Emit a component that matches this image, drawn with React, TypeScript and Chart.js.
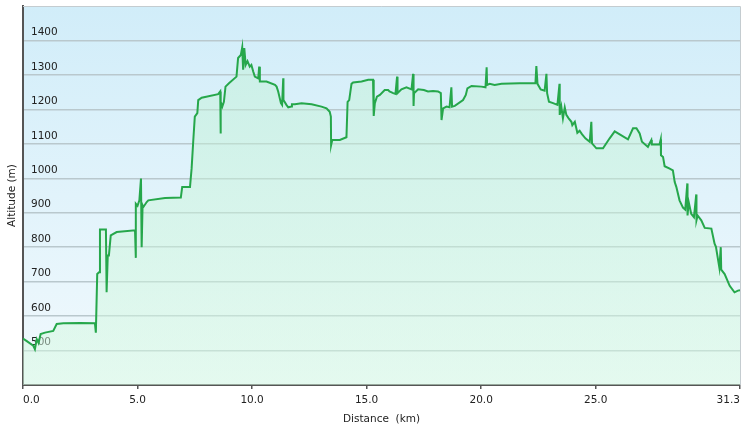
import React, { useEffect, useRef } from "react";
import { Chart, registerables } from "chart.js";

Chart.register(...registerables);

const distanceKm: number[] = [
  0.0, 0.15, 0.45, 0.52, 0.6, 0.68, 0.77, 0.96, 1.32, 1.47, 1.76, 2.5, 3.14, 3.18, 3.24, 3.32, 3.36, 3.62, 3.65, 3.7,
  3.75, 3.83, 4.09, 4.89, 4.92, 4.93, 5.0, 5.08, 5.15, 5.18, 5.22, 5.25, 5.4, 5.47, 6.2, 6.89, 6.95, 7.29, 7.36, 7.43,
  7.5, 7.61, 7.65, 7.8, 8.52, 8.61, 8.62, 8.64, 8.7, 8.77, 8.84, 8.99, 9.32, 9.39, 9.51, 9.57, 9.61, 9.66, 9.72, 9.8,
  9.9, 9.97, 10.05, 10.12, 10.27, 10.31, 10.34, 10.63, 11.0, 11.07, 11.14, 11.26, 11.31, 11.36, 11.37, 11.5, 11.58, 11.72, 11.74, 11.87,
  12.16, 12.6, 13.03, 13.25, 13.39, 13.44, 13.45, 13.5, 13.83, 14.12, 14.17, 14.24, 14.34, 14.41, 14.78, 15.07, 15.28, 15.31, 15.36, 15.45,
  15.58, 15.79, 15.94, 16.0, 16.16, 16.26, 16.33, 16.35, 16.52, 16.74, 16.96, 17.03, 17.05, 17.07, 17.25, 17.5, 17.68, 17.9, 18.12, 18.24,
  18.27, 18.34, 18.49, 18.62, 18.7, 18.73, 18.85, 19.21, 19.33, 19.4, 19.58, 20.01, 20.19, 20.24, 20.26, 20.37, 20.59, 20.89, 21.68, 22.37,
  22.41, 22.46, 22.6, 22.77, 22.85, 22.88, 22.96, 23.14, 23.33, 23.42, 23.43, 23.5, 23.57, 23.65, 23.72, 23.82, 23.94, 23.98, 24.09, 24.2,
  24.3, 24.4, 24.55, 24.74, 24.81, 24.84, 25.03, 25.32, 25.61, 25.83, 26.41, 26.63, 26.78, 26.92, 27.02, 27.28, 27.35, 27.43, 27.45, 27.79,
  27.84, 27.85, 27.94, 28.01, 28.23, 28.37, 28.45, 28.52, 28.66, 28.81, 28.91, 29.0, 29.01, 29.06, 29.17, 29.29, 29.39, 29.4, 29.45, 29.61,
  29.76, 30.05, 30.19, 30.25, 30.4, 30.46, 30.48, 30.63, 30.85, 31.06, 31.21, 31.3,
];

const altitudeM: number[] = [
  535, 528, 514, 504, 533, 522, 548, 552, 557, 577, 579, 580, 579, 552, 722, 727, 851, 851, 669, 776,
  776, 834, 844, 849, 769, 926, 920, 936, 999, 800, 921, 916, 931, 936, 943, 944, 975, 975, 1028, 1106,
  1179, 1189, 1227, 1234, 1244, 1252, 1130, 1222, 1208, 1222, 1266, 1276, 1295, 1349, 1358, 1380, 1315, 1378, 1329, 1340,
  1324, 1329, 1310, 1295, 1290, 1324, 1281, 1281, 1271, 1266, 1252, 1218, 1213, 1290, 1227, 1213, 1206, 1208, 1215, 1215,
  1218, 1215, 1208, 1203, 1193, 1179, 1096, 1111, 1111, 1119, 1222, 1227, 1274, 1278, 1281, 1286, 1286, 1181, 1218, 1237,
  1242, 1256, 1256, 1252, 1247, 1245, 1295, 1247, 1258, 1264, 1258, 1303, 1210, 1247, 1258, 1256, 1252, 1253, 1252, 1247,
  1169, 1203, 1208, 1206, 1264, 1208, 1210, 1227, 1242, 1261, 1268, 1266, 1264, 1322, 1271, 1274, 1271, 1274, 1276, 1276,
  1326, 1274, 1258, 1254, 1303, 1247, 1222, 1218, 1213, 1274, 1184, 1208, 1174, 1206, 1184, 1174, 1164, 1154, 1164, 1132,
  1138, 1128, 1116, 1106, 1164, 1101, 1087, 1087, 1116, 1136, 1113, 1145, 1145, 1130, 1106, 1091, 1101, 1111, 1098, 1099,
  1113, 1067, 1062, 1035, 1028, 1023, 989, 975, 936, 915, 909, 985, 892, 931, 897, 887, 953, 878, 892, 878,
  856, 854, 810, 801, 740, 800, 735, 722, 688, 669, 674, 675,
];

const xTicks: number[] = [0, 5, 10, 15, 20, 25, 31.3];
const yMin = 400;
const yMax = 1500;

const FONT = "'DejaVu Sans', Verdana, sans-serif";

const bgPlugin = {
  id: "bgPlugin",
  beforeDraw(chart: any) {
    const { ctx, chartArea: a } = chart;
    if (!a) return;
    const g = ctx.createLinearGradient(0, a.top, 0, a.bottom);
    g.addColorStop(0, "#d1edf9");
    g.addColorStop(1, "#f1f9fd");
    ctx.save();
    ctx.fillStyle = g;
    ctx.fillRect(a.left, a.top, a.right - a.left, a.bottom - a.top);
    ctx.restore();
  },
  afterDraw(chart: any) {
    const { ctx, chartArea: a } = chart;
    ctx.save();
    ctx.strokeStyle = "#c4ccd0";
    ctx.lineWidth = 1;
    ctx.beginPath();
    ctx.moveTo(a.left, a.top + 0.5);
    ctx.lineTo(a.right + 0.5, a.top + 0.5);
    ctx.lineTo(a.right + 0.5, a.bottom);
    ctx.stroke();
    ctx.restore();
  },
};

export default function App() {
  const ref = useRef<HTMLCanvasElement | null>(null);

  useEffect(() => {
    if (!ref.current) return;
    const points = distanceKm.map((x, i) => ({ x, y: altitudeM[i] }));
    const chart = new Chart(ref.current, {
      type: "line",
      data: {
        datasets: [
          {
            data: points,
            borderColor: "#26a74b",
            borderWidth: 2,
            pointRadius: 0,
            tension: 0,
            fill: "start",
            backgroundColor: (c: any) => {
              const a = c.chart.chartArea;
              if (!a) return "rgba(190,240,210,0.4)";
              const g = c.chart.ctx.createLinearGradient(0, a.top, 0, a.bottom);
              g.addColorStop(0, "rgba(185,240,205,0.4)");
              g.addColorStop(1, "rgba(215,250,225,0.5)");
              return g;
            },
          },
        ],
      },
      options: {
        animation: false,
        responsive: false,
        events: [],
        layout: { padding: { top: 6, right: 6, left: 0, bottom: 0 } },
        plugins: { legend: { display: false }, tooltip: { enabled: false } },
        scales: {
          x: {
            type: "linear",
            min: 0,
            max: 31.3,
            afterBuildTicks: (s: any) => {
              s.ticks = xTicks.map((v) => ({ value: v }));
            },
            afterFit: (s: any) => {
              s.height = 46;
              s.paddingLeft = 0;
              s.paddingRight = 0;
            },
            ticks: {
              align: "inner",
              maxRotation: 0,
              autoSkip: false,
              padding: 5,
              color: "#222",
              font: { family: FONT, size: 10.5 },
              callback: (v: any) => Number(v).toFixed(1),
            },
            grid: {
              display: true,
              drawOnChartArea: false,
              drawTicks: true,
              tickLength: 4,
              color: "#555",
              lineWidth: 1.5,
            },
            border: { display: true, color: "#555", width: 2 },
            title: {
              display: true,
              text: "Distance  (km)",
              color: "#222",
              font: { family: FONT, size: 10.5 },
              padding: { top: 0, bottom: 5 },
            },
          },
          y: {
            min: yMin,
            max: yMax,
            afterFit: (s: any) => {
              s.width = 23;
              s.paddingTop = 0;
              s.paddingBottom = 0;
            },
            ticks: {
              stepSize: 100,
              mirror: true,
              padding: 8,
              labelOffset: -8,
              color: "#222",
              font: { family: FONT, size: 10.5 },
              callback: (v: any) => (v === yMin || v === yMax ? "" : String(v)),
            },
            grid: {
              drawTicks: false,
              lineWidth: 1.5,
              color: (c: any) =>
                c.tick && (c.tick.value === yMin || c.tick.value === yMax) ? "rgba(0,0,0,0)" : "#b9c8cd",
            },
            border: { display: true, color: "#555", width: 2 },
            title: {
              display: true,
              text: "Altitude (m)",
              color: "#222",
              font: { family: FONT, size: 10.5 },
              padding: { top: 6, bottom: 0 },
            },
          },
        },
      },
      plugins: [bgPlugin],
    } as any);
    return () => chart.destroy();
  }, []);

  return (
    <div style={{ position: "absolute", left: 0, top: 0, width: 746, height: 431, background: "#fff" }}>
      <canvas ref={ref} width={746} height={431} />
    </div>
  );
}
